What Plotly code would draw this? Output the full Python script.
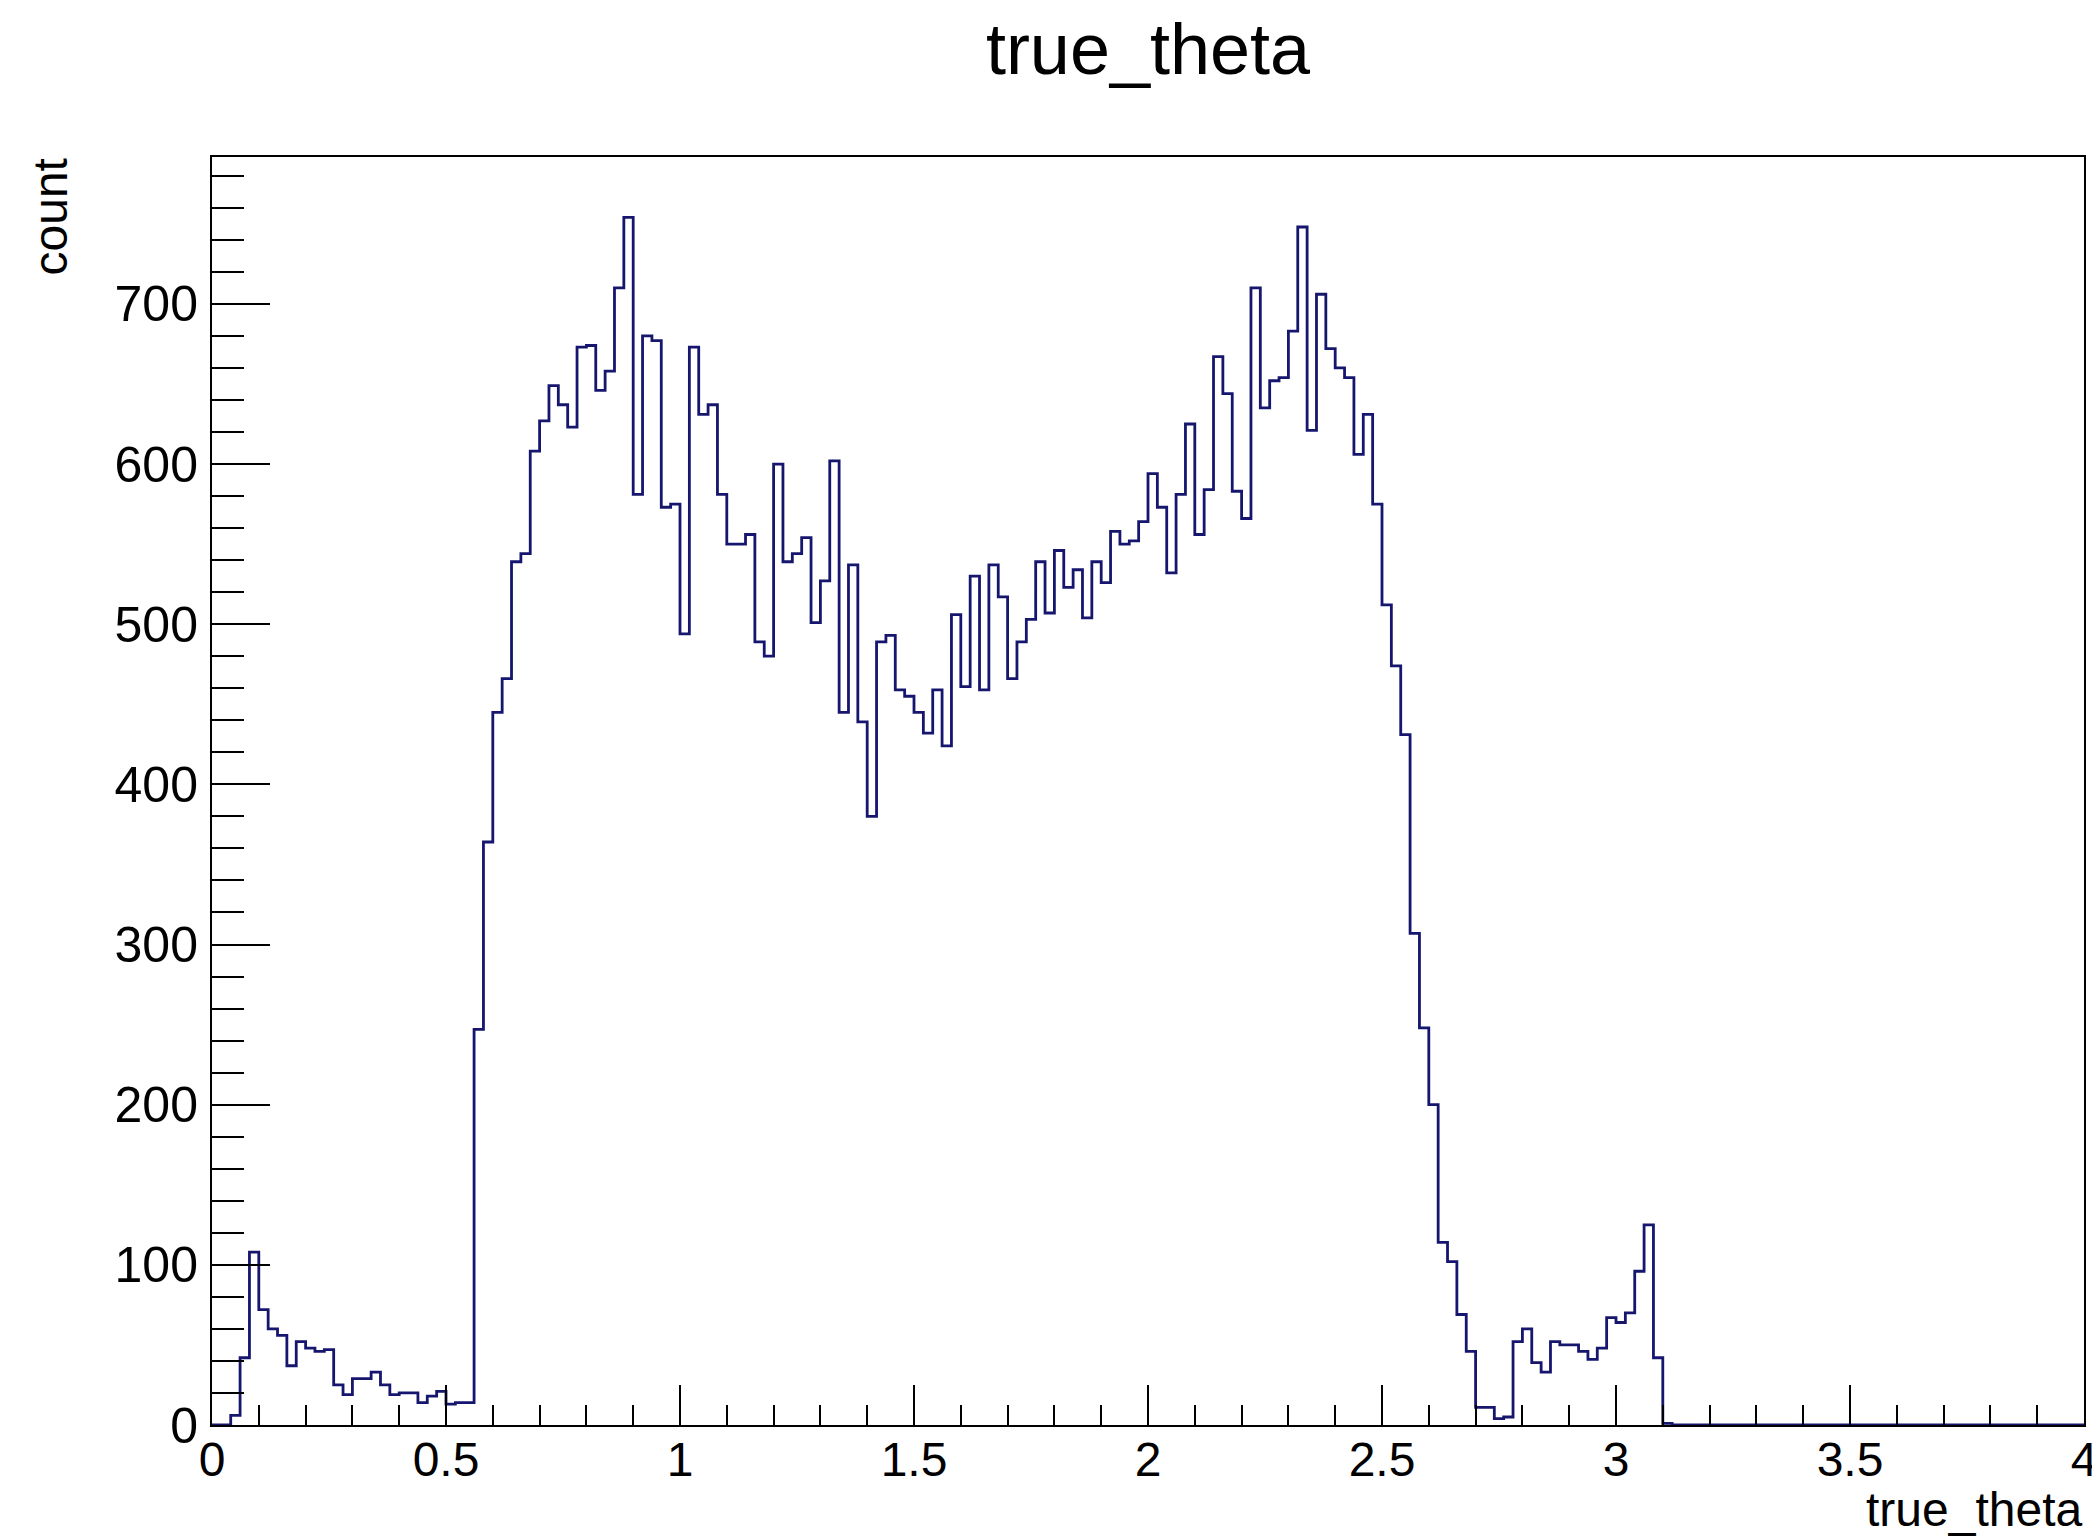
import plotly.graph_objects as go

# Histogram of true_theta: 200 bins of width 0.02 from 0 to 4
bin_low = 0.0
bin_width = 0.02
counts = [
    0, 0, 6, 42, 108, 72, 60, 56, 37, 52,
    48, 46, 47, 25, 19, 29, 29, 33, 25, 19,
    20, 20, 14, 18, 21, 13, 14, 14, 247, 364,
    445, 466, 539, 544, 608, 627, 649, 637, 623, 673,
    674, 646, 658, 710, 754, 581, 680, 677, 573, 575,
    494, 673, 631, 637, 581, 550, 550, 556, 489, 480,
    600, 539, 544, 554, 501, 527, 602, 445, 537, 439,
    380, 489, 493, 459, 455, 445, 432, 459, 424, 506,
    461, 530, 459, 537, 517, 466, 489, 503, 539, 507,
    546, 523, 534, 504, 539, 526, 558, 550, 552, 564,
    594, 573, 532, 581, 625, 556, 584, 667, 644, 583,
    566, 710, 635, 652, 654, 683, 748, 621, 706, 672,
    660, 654, 606, 631, 575, 512, 474, 431, 307, 248,
    200, 114, 102, 69, 46, 11, 11, 4, 5, 52,
    60, 39, 33, 52, 50, 50, 46, 41, 48, 67,
    64, 70, 96, 125, 42, 1, 0, 0, 0, 0,
    0, 0, 0, 0, 0, 0, 0, 0, 0, 0,
    0, 0, 0, 0, 0, 0, 0, 0, 0, 0,
    0, 0, 0, 0, 0, 0, 0, 0, 0, 0,
    0, 0, 0, 0, 0, 0, 0, 0, 0, 0,
]

title_text = "true_theta"
x_title = "true_theta"
y_title = "count"
x_range = [0, 4]
y_max = max(counts) * 1.05

edges = [bin_low + i * bin_width for i in range(len(counts) + 1)]
ys = counts + [counts[-1]]

FONT = "Liberation Sans, Arial, Helvetica, sans-serif"
LINE_COLOR = "#16166e"

# The page body has an 8px margin, so the figure is made 8px smaller each way
W, H = 2092, 1532
ML, MR, MT, MB = 204, 16, 149, 115
plot_h = H - MT - MB
plot_w = W - ML - MR

fig = go.Figure()
fig.add_trace(go.Scatter(
    x=edges, y=ys, mode="lines", line=dict(shape="hv", color=LINE_COLOR, width=2.8),
    hoverinfo="skip", showlegend=False,
))

fig.update_layout(
    width=W, height=H,
    paper_bgcolor="white", plot_bgcolor="white",
    margin=dict(l=ML, r=MR, t=MT, b=MB, autoexpand=False),
    font=dict(family=FONT, size=50, color="black"),
    title=dict(text=title_text, font=dict(family=FONT, size=72, color="black"),
               xref="paper", x=0.5, xanchor="center",
               yref="container", y=1 - 41 / H, yanchor="middle"),
    showlegend=False,
)

fig.update_xaxes(
    range=x_range, dtick=0.5, tick0=0, showgrid=False, zeroline=False,
    showline=True, linecolor="black", linewidth=2, mirror=True,
    ticks="inside", ticklen=40, tickwidth=2, tickcolor="black",
    minor=dict(dtick=0.1, tick0=0, ticks="inside", ticklen=20, tickwidth=2, tickcolor="black", showgrid=False),
    tickfont=dict(family=FONT, size=48, color="black"),
    ticklabelstandoff=-9,
)
fig.update_yaxes(
    range=[0, y_max], dtick=100, tick0=0, showgrid=False, zeroline=False,
    showline=True, linecolor="black", linewidth=2, mirror=True,
    ticks="inside", ticklen=58, tickwidth=2, tickcolor="black",
    minor=dict(dtick=20, tick0=0, ticks="inside", ticklen=32, tickwidth=2, tickcolor="black", showgrid=False),
    tickfont=dict(family=FONT, size=50, color="black"),
    ticklabelstandoff=2,
)

fig.add_annotation(text=x_title, xref="paper", yref="paper", x=1, y=-84 / plot_h,
                   xanchor="right", yanchor="middle", xshift=0, showarrow=False,
                   font=dict(family=FONT, size=48, color="black"))
fig.add_annotation(text=y_title, xref="paper", yref="paper", x=(42 - ML) / plot_w, y=1,
                   xanchor="center", yanchor="top", textangle=-90, showarrow=False,
                   font=dict(family=FONT, size=48, color="black"))

fig.write_html("out.html")
